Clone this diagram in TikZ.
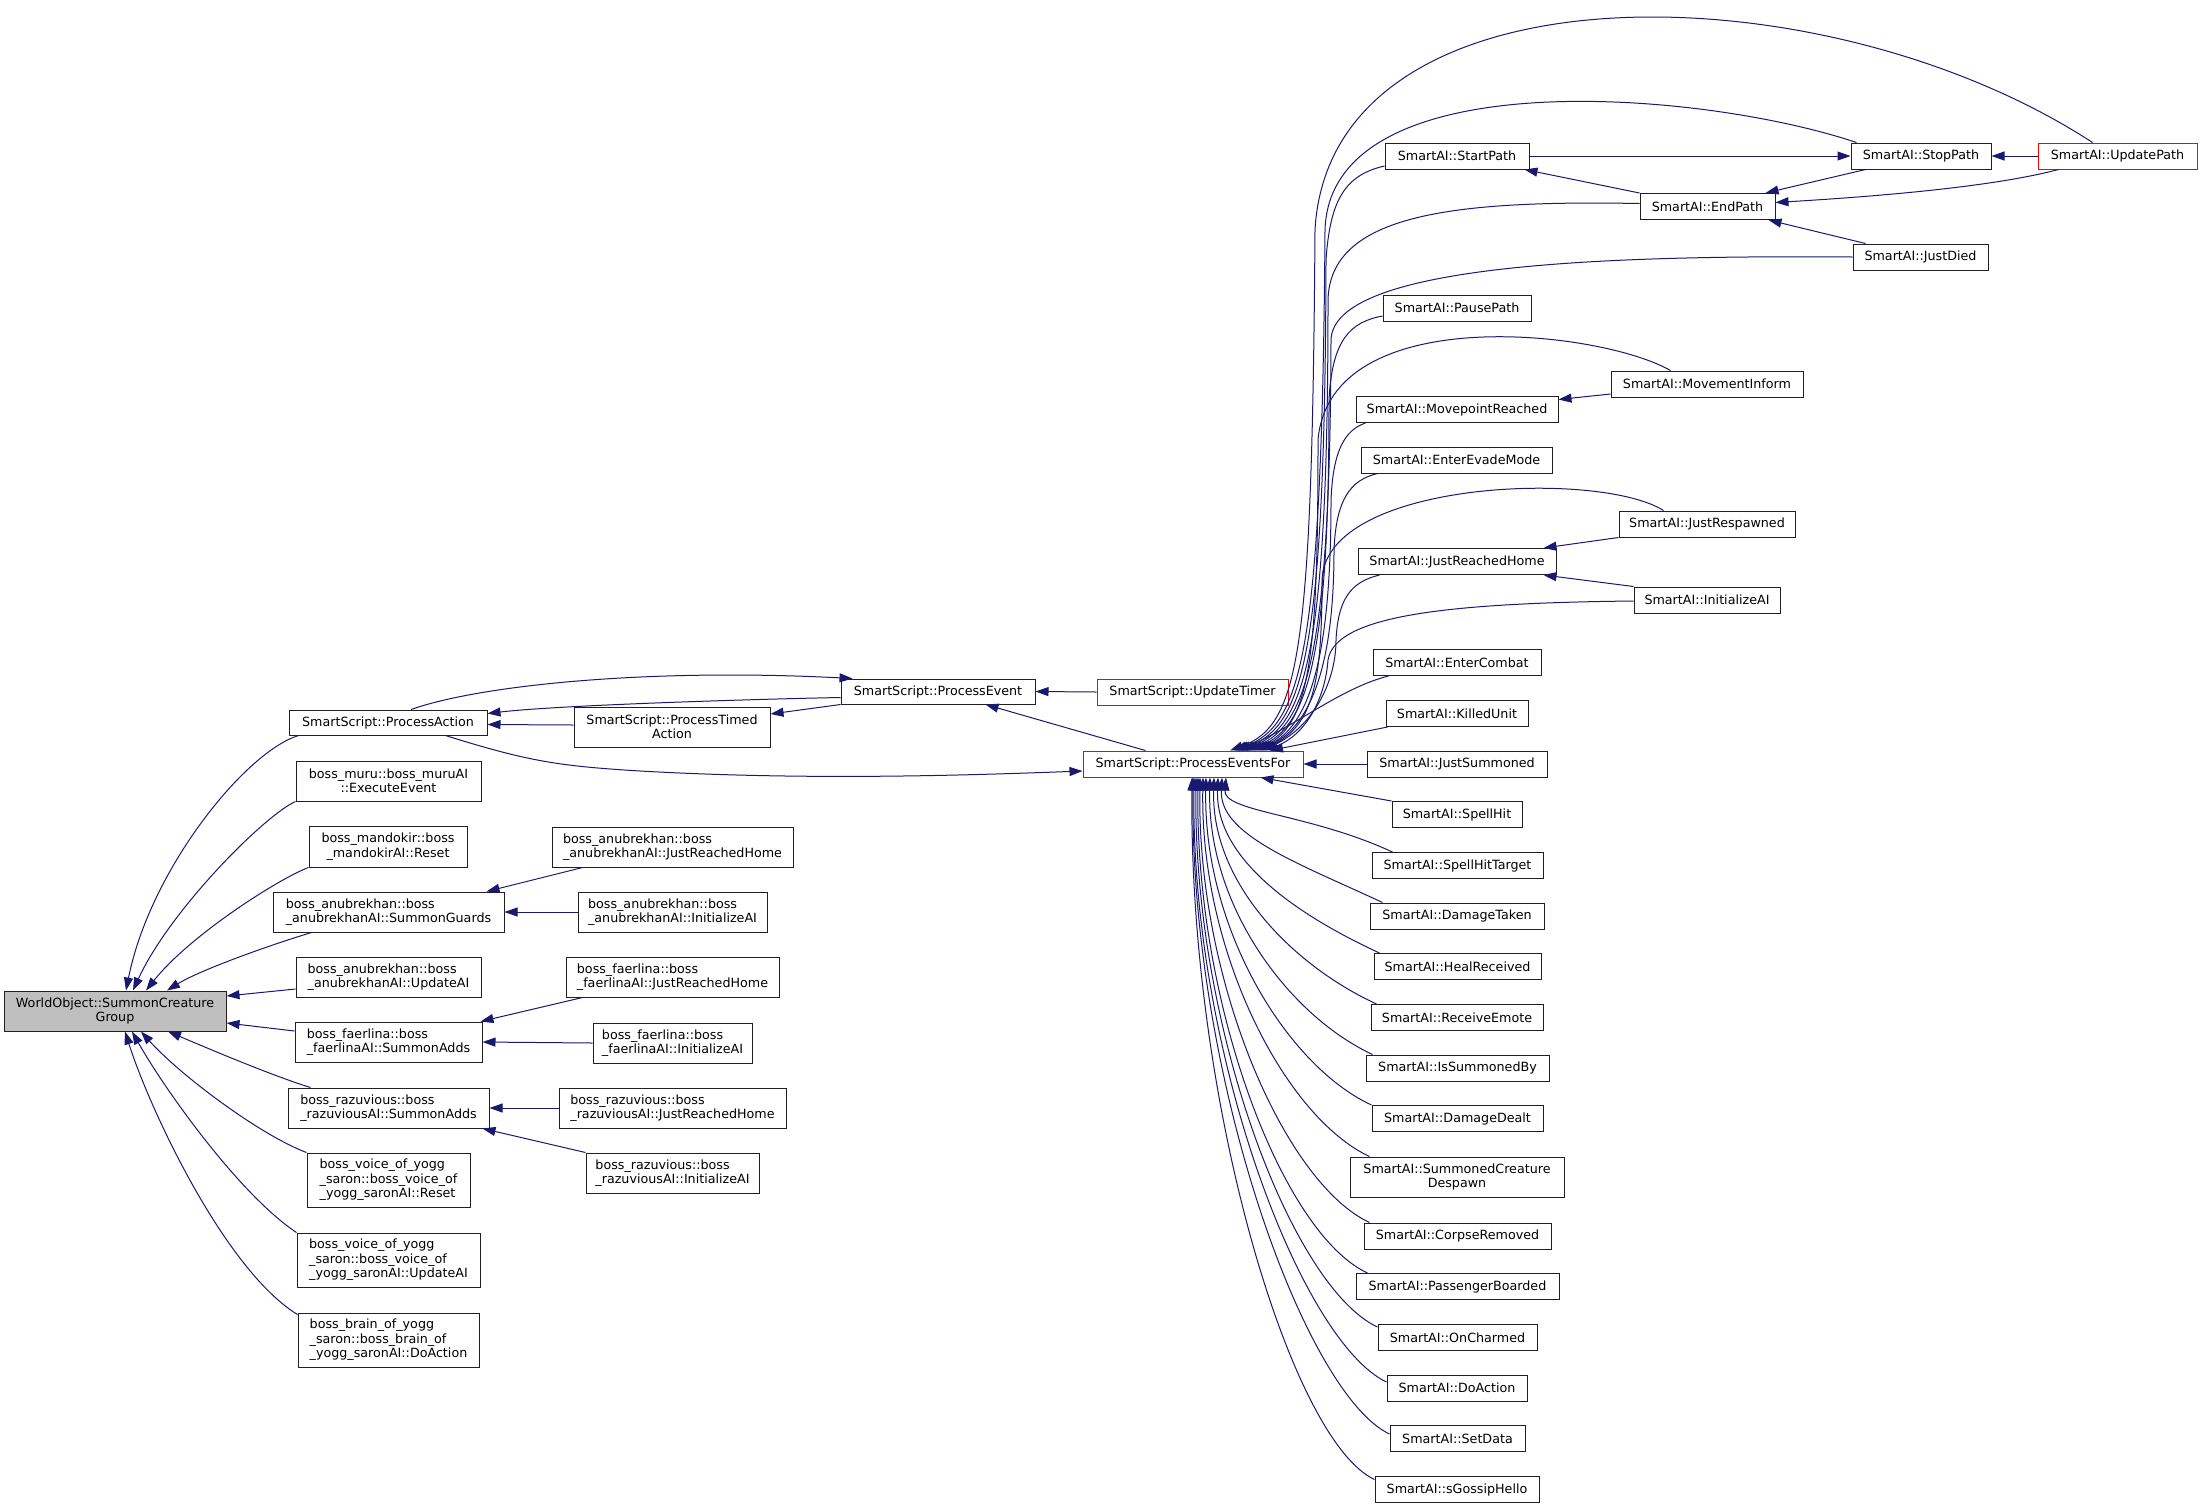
\documentclass[tikz,border=0pt]{standalone}
\usepackage{fontspec}
\setmainfont{DejaVu Sans}
\usetikzlibrary{arrows.meta,calc}
\definecolor{navy}{HTML}{191970}
\definecolor{wogray}{HTML}{BFBFBF}
\definecolor{redbox}{HTML}{FF0000}
\definecolor{boxline}{HTML}{202020}
\begin{document}
\begin{tikzpicture}[x=1pt,y=-1pt,
  font=\fontsize{12.7}{14.5}\selectfont,
  box/.style={draw=boxline,line width=1pt,inner sep=0pt,fill=white},
  sa/.style={box,minimum height=26pt},
  rbox/.style={box,draw=redbox,minimum height=26pt},
  e/.style={draw=navy,line width=1pt,{Triangle[length=13pt,width=9pt]}-}]
\useasboundingbox (0,0) rectangle (2201,1508);
\fill[white] (0,0) rectangle (2201,1508);

% ---- left column
\node[box,fill=wogray,minimum width=222pt,minimum height=40pt,align=center] (wo) at (115,1011) {WorldObject::SummonCreature\\Group};
\node[box,minimum width=198pt,minimum height=25pt] (pa) at (388,722.5) {SmartScript::ProcessAction};
\node[box,minimum width=185pt,minimum height=40pt,align=center] (muru) at (388.5,781) {boss\_muru::boss\_muruAI\\::ExecuteEvent};
\node[box,minimum width=158pt,minimum height=41pt,align=center] (mand) at (388,846.5) {boss\_mandokir::boss\\\_mandokirAI::Reset};
\node[box,minimum width=231pt,minimum height=40pt,align=left] (sg) at (388.5,912) {boss\_anubrekhan::boss\\\_anubrekhanAI::SummonGuards};
\node[box,minimum width=185pt,minimum height=40pt,align=left] (anubup) at (388.5,977) {boss\_anubrekhan::boss\\\_anubrekhanAI::UpdateAI};
\node[box,minimum width=187pt,minimum height=40pt,align=left] (fsa) at (388.5,1042) {boss\_faerlina::boss\\\_faerlinaAI::SummonAdds};
\node[box,minimum width=201pt,minimum height=40pt,align=left] (rsa) at (388.5,1108) {boss\_razuvious::boss\\\_razuviousAI::SummonAdds};
\node[box,minimum width=163pt,minimum height=54pt,align=left] (vreset) at (388.5,1180) {boss\_voice\_of\_yogg\\\_saron::boss\_voice\_of\\\_yogg\_saronAI::Reset};
\node[box,minimum width=183pt,minimum height=54pt,align=left] (vupd) at (388.5,1260) {boss\_voice\_of\_yogg\\\_saron::boss\_voice\_of\\\_yogg\_saronAI::UpdateAI};
\node[box,minimum width=181pt,minimum height=54pt,align=left] (brain) at (388.5,1340) {boss\_brain\_of\_yogg\\\_saron::boss\_brain\_of\\\_yogg\_saronAI::DoAction};

% ---- second column
\node[box,minimum width=194pt,minimum height=25pt] (pe) at (938,691.5) {SmartScript::ProcessEvent};
\node[box,minimum width=196pt,minimum height=40pt,align=center] (pta) at (672,727) {SmartScript::ProcessTimed\\Action};
\node[box,minimum width=241pt,minimum height=40pt,align=left] (ajrh) at (672.5,847) {boss\_anubrekhan::boss\\\_anubrekhanAI::JustReachedHome};
\node[box,minimum width=189pt,minimum height=40pt,align=left] (aini) at (672.5,912) {boss\_anubrekhan::boss\\\_anubrekhanAI::InitializeAI};
\node[box,minimum width=213pt,minimum height=40pt,align=left] (fjrh) at (672.5,977) {boss\_faerlina::boss\\\_faerlinaAI::JustReachedHome};
\node[box,minimum width=159pt,minimum height=40pt,align=left] (fini) at (672.5,1043) {boss\_faerlina::boss\\\_faerlinaAI::InitializeAI};
\node[box,minimum width=227pt,minimum height=40pt,align=left] (rjrh) at (672.5,1108) {boss\_razuvious::boss\\\_razuviousAI::JustReachedHome};
\node[box,minimum width=173pt,minimum height=40pt,align=left] (rini) at (672.5,1173) {boss\_razuvious::boss\\\_razuviousAI::InitializeAI};

% ---- red nodes
\node[rbox,minimum width=191pt] (ut) at (1192.5,692) {SmartScript::UpdateTimer};
\node[rbox,minimum width=220pt] (pef) at (1193,764) {SmartScript::ProcessEventsFor};

% ---- SmartAI column
\node[sa,minimum width=144pt] (startp) at (1457,156) {SmartAI::StartPath};
\node[sa,minimum width=148pt] (pause) at (1457,308) {SmartAI::PausePath};
\node[sa,minimum width=202pt] (movep) at (1457,409.5) {SmartAI::MovepointReached};
\node[sa,minimum width=191pt] (evade) at (1456.5,460) {SmartAI::EnterEvadeMode};
\node[sa,minimum width=198pt] (jrh) at (1457,561.5) {SmartAI::JustReachedHome};
\node[sa,minimum width=168pt] (combat) at (1457,662.5) {SmartAI::EnterCombat};
\node[sa,minimum width=142pt] (killed) at (1457,713.5) {SmartAI::KilledUnit};
\node[sa,minimum width=180pt] (summoned) at (1457,764) {SmartAI::JustSummoned};
\node[sa,minimum width=130pt] (spellhit) at (1457,814.5) {SmartAI::SpellHit};
\node[sa,minimum width=171pt] (sht) at (1457.5,865.5) {SmartAI::SpellHitTarget};
\node[sa,minimum width=174pt] (dmgt) at (1457,916) {SmartAI::DamageTaken};
\node[sa,minimum width=167pt] (heal) at (1457.5,966.5) {SmartAI::HealReceived};
\node[sa,minimum width=172pt] (emote) at (1457,1017.5) {SmartAI::ReceiveEmote};
\node[sa,minimum width=183pt] (issum) at (1457.5,1068) {SmartAI::IsSummonedBy};
\node[sa,minimum width=171pt] (dmgd) at (1457.5,1118.5) {SmartAI::DamageDealt};
\node[box,minimum width=214pt,minimum height=40pt,align=center] (scd) at (1457,1177) {SmartAI::SummonedCreature\\Despawn};
\node[sa,minimum width=187pt] (corpse) at (1457.5,1236) {SmartAI::CorpseRemoved};
\node[sa,minimum width=203pt] (pass) at (1457.5,1286.5) {SmartAI::PassengerBoarded};
\node[sa,minimum width=159pt] (charm) at (1457.5,1337.5) {SmartAI::OnCharmed};
\node[sa,minimum width=140pt] (doact) at (1457,1388) {SmartAI::DoAction};
\node[sa,minimum width=135pt] (setdata) at (1457.5,1438.5) {SmartAI::SetData};
\node[sa,minimum width=164pt] (gossip) at (1457,1489.5) {SmartAI::sGossipHello};

% ---- right columns
\node[sa,minimum width=135pt] (endp) at (1707.5,206.5) {SmartAI::EndPath};
\node[sa,minimum width=192pt] (minf) at (1707,384) {SmartAI::MovementInform};
\node[sa,minimum width=176pt] (jresp) at (1707,524) {SmartAI::JustRespawned};
\node[sa,minimum width=146pt] (ini) at (1707,600) {SmartAI::InitializeAI};
\node[sa,minimum width=140pt] (stopp) at (1921,156) {SmartAI::StopPath};
\node[sa,minimum width=135pt] (jdied) at (1920.5,257) {SmartAI::JustDied};
\node[rbox,minimum width=159pt] (updp) at (2117.5,156) {SmartAI::UpdatePath};

% ---- edges into WorldObject
\draw[e] ($(wo.north)+(11,0)$) .. controls (150,870) and (245,752) .. ($(pa.south west)+(10,0)$);
\draw[e] ($(wo.north)+(18,0)$) .. controls (170,910) and (265,815) .. (muru.south west);
\draw[e] ($(wo.north)+(31,0)$) .. controls (190,935) and (280,878) .. (mand.south west);
\draw[e] ($(wo.north)+(52,0)$) .. controls (200,970) and (270,945) .. ($(sg.south west)+(39,0)$);
\draw[e] ($(wo.east)+(0,-15)$) -- ($(anubup.west)+(0,12)$);
\draw[e] ($(wo.east)+(0,12)$) -- ($(fsa.west)+(0,-11)$);
\draw[e] ($(wo.south)+(53,0)$) .. controls (200,1045) and (270,1075) .. ($(rsa.north west)+(23,0)$);
\draw[e] ($(wo.south)+(26,0)$) .. controls (180,1075) and (260,1135) .. (vreset.north west);
\draw[e] ($(wo.south)+(17,0)$) .. controls (165,1090) and (240,1195) .. (vupd.north west);
\draw[e] ($(wo.south)+(10,0)$) .. controls (150,1110) and (225,1270) .. ($(brain.north west)+(0,2)$);

% ---- second column edges
\draw[e] ($(sg.north east)+(-18,0)$) -- ($(ajrh.south west)+(31,0)$);
\draw[e] (sg.east) -- (aini.west);
\draw[e] ($(fsa.north east)+(-2,0)$) -- ($(fjrh.south west)+(17,0)$);
\draw[e] (fsa.east) -- (fini.west);
\draw[e] (rsa.east) -- (rjrh.west);
\draw[e] ($(rsa.south east)+(-7,0)$) -- (rini.north west);

% ---- ProcessAction / ProcessEvent
\draw[e] ($(pa.east)+(0,-9)$) .. controls (560,705) and (760,699) .. ($(pe.west)+(0,6)$);
\draw[e] ($(pa.east)+(0,2)$) -- ($(pta.west)+(0,-2)$);
\draw[e] ($(pe.north west)+(12,0)$) .. controls (650,668) and (480,685) .. ($(pa.north)+(23,0)$);
\draw[e] ($(pta.east)+(0,-13)$) -- (pe.south west);
\draw[e] ($(pef.west)+(0,7)$) .. controls (950,776) and (800,780) .. (640,771) .. controls (560,766) and (530,762) .. ($(pa.south east)+(-42,0)$);
\draw[e] ($(pe.south east)+(-50,0)$) -- ($(pef.north west)+(63,0)$);
\draw[e] (pe.east) -- (ut.west);

% ---- top right cluster
\draw[e] (stopp.west) -- (startp.east);
\draw[e] ($(startp.south east)+(-5,0)$) -- (endp.north west);
\draw[e] ($(endp.north east)+(-10,0)$) -- ($(stopp.south west)+(15,0)$);
\draw[e] (stopp.east) -- (updp.west);
\draw[e] ($(endp.east)+(0,-4)$) .. controls (1900,195) and (2000,185) .. ($(updp.south west)+(21,0)$);
\draw[e] ($(endp.south east)+(-7,0)$) -- ($(jdied.north west)+(13,0)$);
\draw[e] ($(movep.east)+(0,-10)$) -- ($(minf.west)+(0,10)$);
\draw[e] ($(jrh.north east)+(-13,0)$) -- (jresp.south west);
\draw[e] ($(jrh.south east)+(-13,0)$) -- (ini.north west);

% ---- into ProcessEventsFor from above
\draw[e] ($(pef.north)+(37,0)$) .. controls (1300,725) and (1312,650) .. (1315,230) .. controls (1330,-40) and (1820,-35) .. ($(updp.north)+(-25,0)$);
\draw[e] ($(pef.north)+(41,0)$) .. controls (1302,725) and (1322,650) .. (1325,230) .. controls (1330,60) and (1700,90) .. ($(stopp.north west)+(6,0)$);
\draw[e] ($(pef.north)+(45,0)$) .. controls (1304,725) and (1325,650) .. (1326,260) .. controls (1330,200) and (1345,175) .. ($(startp.west)+(0,10)$);
\draw[e] ($(pef.north)+(49,0)$) .. controls (1306,725) and (1328,650) .. (1328,300) .. controls (1330,215) and (1450,200) .. ($(endp.west)+(0,-3)$);
\draw[e] ($(pef.north)+(53,0)$) .. controls (1308,725) and (1330,650) .. (1331,340) .. controls (1333,265) and (1600,255) .. (jdied.west);
\draw[e] ($(pef.north)+(57,0)$) .. controls (1310,725) and (1329,650) .. (1329,400) .. controls (1332,340) and (1350,322) .. ($(pause.west)+(0,8)$);
\draw[e] ($(pef.north)+(61,0)$) .. controls (1311,725) and (1318,650) .. (1318,440) .. controls (1330,300) and (1600,330) .. ($(minf.north west)+(60,0)$);
\draw[e] ($(pef.north)+(64,0)$) .. controls (1312,725) and (1331,650) .. (1331,500) .. controls (1333,450) and (1345,430) .. ($(movep.south west)+(10,0)$);
\draw[e] ($(pef.north)+(66,0)$) .. controls (1313,725) and (1334,660) .. (1334,550) .. controls (1336,500) and (1350,480) .. ($(evade.south west)+(17,0)$);
\draw[e] ($(pef.north)+(68,0)$) .. controls (1314,725) and (1322,680) .. (1322,580) .. controls (1325,480) and (1600,470) .. ($(jresp.north west)+(45,0)$);
\draw[e] ($(pef.north)+(70,0)$) .. controls (1315,725) and (1336,680) .. (1336,640) .. controls (1338,600) and (1350,582) .. ($(jrh.south west)+(22,0)$);
\draw[e] ($(pef.north)+(72,0)$) .. controls (1305,735) and (1325,700) .. (1328,660) .. controls (1335,615) and (1450,603) .. ($(ini.west)+(0,1)$);
\draw[e] ($(pef.north)+(43,0)$) .. controls (1290,730) and (1340,688) .. ($(combat.south west)+(16,0)$);
\draw[e] ($(pef.north)+(77,0)$) -- ($(killed.south west)+(2,0)$);
\draw[e] (pef.east) -- (summoned.west);
\draw[e] ($(pef.south east)+(-43,0)$) -- (spellhit.north west);

% ---- into ProcessEventsFor from below
\draw[e] ($(pef.south)+(33,0)$) .. controls (1223,812) and (1308,813) .. ($(sht.north west)+(21,0)$);
\draw[e] ($(pef.south)+(29,0)$) .. controls (1219,835) and (1298,863) .. ($(dmgt.north west)+(13,0)$);
\draw[e] ($(pef.south)+(25,0)$) .. controls (1215,858) and (1295,914) .. ($(heal.north west)+(6,0)$);
\draw[e] ($(pef.south)+(21,0)$) .. controls (1211,882) and (1292,965) .. ($(emote.north west)+(6,0)$);
\draw[e] ($(pef.south)+(17,0)$) .. controls (1207,905) and (1288,1015) .. ($(issum.north west)+(7,0)$);
\draw[e] ($(pef.south)+(13,0)$) .. controls (1203,928) and (1287,1066) .. (dmgd.north west);
\draw[e] ($(pef.south)+(10,0)$) .. controls (1200,952) and (1285,1117) .. ($(scd.north west)+(20,0)$);
\draw[e] ($(pef.south)+(7,0)$) .. controls (1197,982) and (1285,1183) .. ($(corpse.north west)+(6,0)$);
\draw[e] ($(pef.south)+(5,0)$) .. controls (1195,1006) and (1283,1234) .. ($(pass.north west)+(12,0)$);
\draw[e] ($(pef.south)+(3,0)$) .. controls (1193,1030) and (1293,1288) .. ($(charm.north west)+(0,3)$);
\draw[e] ($(pef.south)+(1,0)$) .. controls (1191,1055) and (1302,1342) .. ($(doact.west)+(0,-6)$);
\draw[e] ($(pef.south)+(0,0)$) .. controls (1190,1078) and (1305,1394) .. ($(setdata.west)+(0,-4.5)$);
\draw[e] ($(pef.south)+(-1,0)$) .. controls (1189,1100) and (1290,1440) .. ($(gossip.west)+(0,-10)$);
\end{tikzpicture}
\end{document}
